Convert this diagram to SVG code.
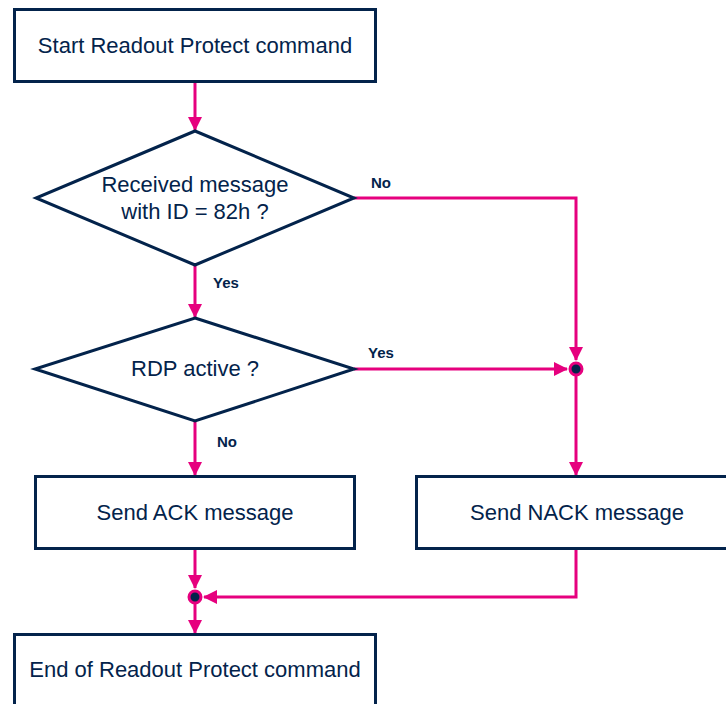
<svg xmlns="http://www.w3.org/2000/svg" width="726" height="704" viewBox="0 0 726 704">
<style>
.box{fill:#fff;stroke:#03234B;stroke-width:3}
.t{font-family:"Liberation Sans",Arial,sans-serif;font-size:22px;fill:#03234B;text-anchor:middle}
.l{font-family:"Liberation Sans",Arial,sans-serif;font-size:15px;font-weight:bold;fill:#03234B}
.c{fill:none;stroke:#E6007E;stroke-width:3}
.dot{fill:#03234B;stroke:#E6007E;stroke-width:3}
</style>
<defs>
<marker id="ah" markerWidth="14" markerHeight="14" viewBox="0 0 14 14" refX="13" refY="7" orient="auto" markerUnits="userSpaceOnUse">
<path d="M0,0 L14,7 L0,14 Z" fill="#E6007E"/>
</marker>
</defs>
<rect width="726" height="704" fill="#fff"/>
<g id="connectors">
<line class="c" x1="195" y1="83" x2="195" y2="130" marker-end="url(#ah)"/>
<line class="c" x1="195" y1="266" x2="195" y2="317" marker-end="url(#ah)"/>
<polyline class="c" points="354,198 576,198 576,360" marker-end="url(#ah)"/>
<line class="c" x1="354" y1="369" x2="567" y2="369" marker-end="url(#ah)"/>
<line class="c" x1="576" y1="369" x2="576" y2="475" marker-end="url(#ah)"/>
<line class="c" x1="195" y1="422" x2="195" y2="475" marker-end="url(#ah)"/>
<line class="c" x1="195" y1="550" x2="195" y2="588" marker-end="url(#ah)"/>
<polyline class="c" points="576,550 576,597 204,597" marker-end="url(#ah)"/>
<line class="c" x1="195" y1="597" x2="195" y2="633" marker-end="url(#ah)"/>
<circle class="dot" cx="576" cy="369" r="6"/>
<circle class="dot" cx="195" cy="597" r="6"/>
<text class="l" x="371" y="188">No</text>
<text class="l" x="213" y="288">Yes</text>
<text class="l" x="368" y="358">Yes</text>
<text class="l" x="217" y="447">No</text>
</g>
<g id="start">
<rect class="box" x="14.5" y="9.5" width="361" height="72"/>
<text class="t" x="195" y="53">Start Readout Protect command</text>
</g>
<g id="dec1">
<polygon class="box" points="195,131 354,198 195,265 36,198"/>
<text class="t" x="195" y="192">Received message</text>
<text class="t" x="195" y="219">with ID = 82h ?</text>
</g>
<g id="dec2">
<polygon class="box" points="195,318 354,369 195,421 35,369"/>
<text class="t" x="195" y="376">RDP active ?</text>
</g>
<g id="ack">
<rect class="box" x="35.5" y="476.5" width="319" height="72"/>
<text class="t" x="195" y="520">Send ACK message</text>
</g>
<g id="nack">
<rect class="box" x="416.5" y="476.5" width="330" height="72"/>
<text class="t" x="577" y="520">Send NACK message</text>
</g>
<g id="end">
<rect class="box" x="14.5" y="634.5" width="361" height="80"/>
<text class="t" x="195" y="677">End of Readout Protect command</text>
</g>
</svg>
